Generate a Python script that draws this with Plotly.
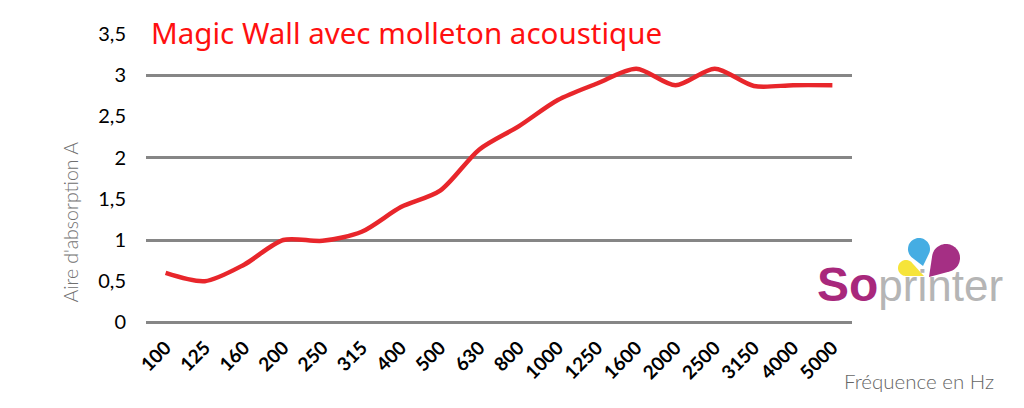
import math
import plotly.graph_objects as go

frequencies = ["100", "125", "160", "200", "250", "315", "400", "500", "630", "800",
               "1000", "1250", "1600", "2000", "2500", "3150", "4000", "5000"]
absorption = [0.6, 0.5, 0.7, 1.0, 0.99, 1.1, 1.4, 1.6, 2.1, 2.38,
              2.7, 2.9, 3.08, 2.88, 3.08, 2.87, 2.88, 2.88]
ytick_vals = [0, 0.5, 1, 1.5, 2, 2.5, 3, 3.5]
ytick_text = ["0", "0,5", "1", "1,5", "2", "2,5", "3", "3,5"]

W, H = 1024, 408
ML, MR, MT, MB = 146, 172, 30, 84

def px(x):
    return (x - ML) / (W - ML - MR)

def py(y):
    return (H - MB - y) / (H - MT - MB)

def drop_path(cx, cy, r, tx, ty, n=40):
    d = math.hypot(tx - cx, ty - cy)
    th = math.atan2(ty - cy, tx - cx)
    a = math.acos(r / d)
    pts = [(tx, ty)]
    start = th + a
    end = th - a + 2 * math.pi
    for i in range(n + 1):
        ang = start + (end - start) * i / n
        pts.append((cx + r * math.cos(ang), cy + r * math.sin(ang)))
    return "M " + " L ".join(f"{px(x):.5f},{py(y):.5f}" for x, y in pts) + " Z"

fig = go.Figure()
fig.add_trace(go.Scatter(
    x=frequencies, y=absorption, mode="lines",
    line=dict(color="#e8262b", width=4.5, shape="spline", smoothing=0.8),
    hoverinfo="skip", showlegend=False,
))
fig.add_trace(go.Scatter(x=frequencies, y=absorption, yaxis="y2", mode="lines",
                         line=dict(width=0), opacity=0, hoverinfo="skip", showlegend=False))

yr = [-0.02, 3.55]
fig.update_layout(
    width=W, height=H,
    margin=dict(l=ML, r=MR, t=MT, b=MB, autoexpand=False),
    paper_bgcolor="white", plot_bgcolor="white",
    xaxis=dict(type="category", range=[-0.5, len(frequencies) - 0.5],
               showgrid=False, zeroline=False, showline=False,
               tickangle=-45, ticks="", ticklabelstandoff=8,
               tickfont=dict(family="Lato", size=19, color="black", weight="bold")),
    yaxis=dict(range=yr, tickvals=ytick_vals, ticktext=ytick_text,
               showgrid=False, zeroline=False, showline=False, ticks="",
               ticklabelstandoff=19,
               tickfont=dict(family="Lato", size=20, color="black")),
    yaxis2=dict(range=yr, overlaying="y", dtick=1, tick0=0, showgrid=True,
                gridcolor="#868686", gridwidth=3, showticklabels=False,
                zeroline=False, showline=False),
)
fig.add_annotation(text="Magic Wall avec molleton acoustique", xref="paper", yref="paper",
                   x=px(149), y=py(10), xanchor="left", yanchor="top", showarrow=False,
                   font=dict(family="Noto Sans", size=29.5, color="#ff1010"))
fig.add_annotation(text="Aire d'absorption A", xref="paper", yref="paper",
                   x=px(56), y=py(222), textangle=-90, showarrow=False,
                   font=dict(family="Lato", size=19.5, color="#707070", weight=300))
fig.add_annotation(text="Fréquence en Hz", xref="paper", yref="paper",
                   x=px(842), y=py(381), xanchor="left", yanchor="middle", showarrow=False,
                   font=dict(family="Lato", size=20.5, color="#666666", weight=300))
# logo
for cx, cy, r, tx, ty, col in [(919, 249, 11, 923, 266, "#45ade3"),
                               (946, 258, 14, 929, 277, "#a52f84"),
                               (906, 268, 8, 924, 276, "#f6e43a")]:
    fig.add_shape(type="path", xref="paper", yref="paper", path=drop_path(cx, cy, r, tx, ty),
                  fillcolor=col, line=dict(width=0), layer="above")
fig.add_annotation(text="<b><span style='color:#a8287c;font-size:48px'>So</span></b><span style='color:#b5b5b5'>printer</span>",
                   xref="paper", yref="paper", x=px(815), y=py(284), xanchor="left", yanchor="middle",
                   showarrow=False, font=dict(family="Liberation Sans", size=44))

fig.write_html("out.html", config={"displayModeBar": False},
               post_script="document.body.style.margin='0px';")
